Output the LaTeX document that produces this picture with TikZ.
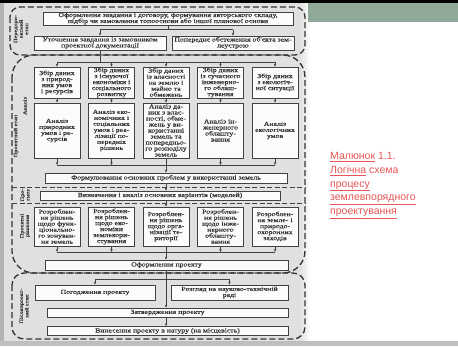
\documentclass[tikz,border=0pt]{standalone}
\usepackage{fontspec}
\setmainfont{Liberation Serif}
\newfontfamily\scanfont[FakeStretch=1.25,FakeBold=0.8]{Liberation Serif}
\newfontfamily\capfont{Liberation Sans}
\usetikzlibrary{arrows.meta}
\definecolor{scanbg}{RGB}{224,224,222}
\definecolor{ramka}{RGB}{65,65,65}
\definecolor{shryft}{RGB}{50,50,50}
\definecolor{zelena}{RGB}{143,168,152}
\definecolor{pidpys}{RGB}{230,86,86}
\tikzset{
  >={Stealth[length=3pt,width=2.4pt]},
  blok/.style={draw=ramka, line width=0.7pt, fill=white!88!scanbg, align=center,
    inner sep=0pt, text=shryft, font=\scanfont\fontsize{6.2}{6}\selectfont},
  etap/.style={draw=black!80, line width=1.3pt, dash pattern=on 6pt off 3pt},
  rozdil/.style={draw=black!75, line width=0.9pt, dash pattern=on 5pt off 2.5pt},
  mitka/.style={rotate=90, align=center, text=shryft,
    font=\scanfont\fontsize{5}{5.5}\selectfont},
  zv/.style={draw=ramka, line width=0.7pt}
}
\begin{document}
\begin{tikzpicture}[x=1pt,y=-1pt]
    \useasboundingbox (0,0) rectangle (458,346);
    % 
    \fill[white] (0,0) rectangle (458,346);
    \fill[scanbg] (4,3) rectangle (308,341);
    \shade[left color=scanbg, right color=white] (300,3) rectangle (310,341);
    \fill[gray!60] (0,3) rectangle (4,346);
    \fill[gray!50] (0,341) rectangle (458,346);
    \fill[zelena] (308,3) rectangle (458,22);
    \fill[black] (0,0) rectangle (458,2.5);
    %%%%%%%%%%%%%%%%%%%%%% 
    \draw[etap, rounded corners=10pt] (10,7) rectangle (305,55);
    \draw[etap, rounded corners=22pt] (12,55) rectangle (305,273);
    \draw[etap, rounded corners=12pt] (12,273) rectangle (305,339);
    % 
    \draw[rozdil] (12,187) -- (305,187);
    \draw[rozdil] (12,203) -- (305,203);
    % 
    \node[mitka] (m1) at (21,29) {Передпро-\\ектний\\етап};
    \node[mitka] (m2) at (25,106) {Аналіз};
    \node[mitka] (m3) at (16,136) {Проектний етап};
    \node[mitka] (m4) at (25,195) {Про-\\гноз};
    \node[mitka] (m5) at (25,226) {Проектні\\рішення};
    \node[mitka] (m6) at (24,306) {Післяпроект-\\ний етап};
    %%%%%%%%%%%%%%%%%%%%%% 
    \node[blok, minimum width=250pt, minimum height=13pt] (zavd) at (168,18.5)
      {Оформлення завдання і договору, формування авторського складу,\\
       підбір чи замовлення топооснови або іншої планової основи};
    \node[blok, minimum width=132pt, minimum height=14pt] (utoch) at (100,43)
      {Уточнення завдання із замовником\\проектної документації};
    \node[blok, minimum width=122pt, minimum height=14pt] (obst) at (233,43)
      {Попереднє обстеження об'єкта зем-\\леустрою};
    % 
    \coordinate (j1) at (0,29.5);
    \draw[zv] (zavd.south) -- (zavd.south |- j1);
    \draw[zv] (utoch.north |- j1) -- (obst.north |- j1);
    \draw[zv,->] (utoch.north |- j1) -- (utoch.north);
    \draw[zv,->] (obst.north |- j1) -- (obst.north);
    %%%%%%%%%%%%%%%%%%%%%% 
    \node[blok, minimum width=46pt, minimum height=31pt] (zb1) at (57,82.5)
      {Збір даних\\з природ-\\них умов\\і ресурсів};
    \node[blok, minimum width=46pt, minimum height=31pt] (zb2) at (111.5,82.5)
      {Збір даних\\з існуючої\\економіки і\\соціального\\розвитку};
    \node[blok, minimum width=46pt, minimum height=31pt] (zb3) at (166,82.5)
      {Збір даних\\із власності\\на землю і\\майно та\\обмежень};
    \node[blok, minimum width=46pt, minimum height=31pt] (zb4) at (220.5,82.5)
      {Збір даних\\із сучасного\\інженерно-\\го облаш-\\тування};
    \node[blok, minimum width=46pt, minimum height=31pt] (zb5) at (275,82.5)
      {Збір даних\\з екологіч-\\ної ситуації};
    % 
    \coordinate (j2) at (0,62);
    \draw[zv] (utoch.south) -- (utoch.south |- j2);
    \draw[zv] (zb1.north |- j2) -- (zb5.north |- j2);
    \draw[zv,->] (zb1.north |- j2) -- (zb1.north);
    \draw[zv,->] (zb2.north |- j2) -- (zb2.north);
    \draw[zv,->] (zb3.north |- j2) -- (zb3.north);
    \draw[zv,->] (zb4.north |- j2) -- (zb4.north);
    \draw[zv,->] (zb5.north |- j2) -- (zb5.north);
    %%%%%%%%%%%%%%%%%%%%%% 
    \node[blok, minimum width=46pt, minimum height=55pt] (an1) at (57,130.5)
      {Аналіз\\природних\\умов і ре-\\сурсів};
    \node[blok, minimum width=46pt, minimum height=55pt] (an2) at (111.5,130.5)
      {Аналіз еко-\\номічних і\\соціальних\\умов і реа-\\лізації по-\\передніх\\рішень};
    \node[blok, minimum width=46pt, minimum height=55pt] (an3) at (166,130.5)
      {Аналіз да-\\них з влас-\\ності, обме-\\жень у ви-\\користанні\\земель та\\попередньо-\\го розподілу\\земель};
    \node[blok, minimum width=46pt, minimum height=55pt] (an4) at (220.5,130.5)
      {Аналіз ін-\\женерного\\облашту-\\вання};
    \node[blok, minimum width=46pt, minimum height=55pt] (an5) at (275,130.5)
      {Аналіз\\екологічних\\умов};
    % 
    \draw[zv,->] (zb1.south) -- (an1.north);
    \draw[zv,->] (zb2.south) -- (an2.north);
    \draw[zv,->] (zb3.south) -- (an3.north);
    \draw[zv,->] (zb4.south) -- (an4.north);
    \draw[zv,->] (zb5.south) -- (an5.north);
    %%%%%%%%%%%%%%%%%%%%%% 
    \node[blok, minimum width=242pt, minimum height=10pt] (form) at (166,178)
      {Формулювання основних проблем у використанні земель};
    \coordinate (j3) at (0,165);
    \draw[zv] (an1.south |- j3) -- (an5.south |- j3);
    \draw[zv,->] (an1.south) -- (an1.south |- j3);
    \draw[zv,->] (an2.south) -- (an2.south |- j3);
    \draw[zv] (an3.south) -- (an3.south |- j3);
    \draw[zv,->] (an4.south) -- (an4.south |- j3);
    \draw[zv,->] (an5.south) -- (an5.south |- j3);
    \draw[zv,->] (an3.south |- j3) -- (form.north);
    % 
    \node[blok, minimum width=240pt, minimum height=9pt] (vyzn) at (160,195.5)
      {Визначення і аналіз основних варіантів (моделей)};
    \draw[zv,->] (form.south -| an3.south) -- (vyzn.north -| an3.south);
    %%%%%%%%%%%%%%%%%%%%%% 
    \node[blok, minimum width=46pt, minimum height=39pt] (rz1) at (57,226.5)
      {Розроблен-\\ня рішень\\щодо функ-\\ціонально-\\го зонуван-\\ня земель};
    \node[blok, minimum width=46pt, minimum height=39pt] (rz2) at (111.5,226.5)
      {Розроблен-\\ня рішень\\щодо еко-\\номіки\\землекори-\\стування};
    \node[blok, minimum width=46pt, minimum height=39pt] (rz3) at (166,226.5)
      {Розроблен-\\ня рішень\\щодо орга-\\нізації те-\\риторії};
    \node[blok, minimum width=46pt, minimum height=39pt] (rz4) at (220.5,226.5)
      {Розроблен-\\ня рішень\\щодо інже-\\нерного\\облашту-\\вання};
    \node[blok, minimum width=46pt, minimum height=39pt] (rz5) at (275,226.5)
      {Розроблен-\\ня земле- і\\природо-\\охоронних\\заходів};
    % 
    \draw[zv,->] (vyzn.south -| rz3.north) -- (rz3.north);
    %%%%%%%%%%%%%%%%%%%%%% 
    \node[blok, minimum width=243pt, minimum height=10pt] (oform) at (166.5,265)
      {Оформлення проекту};
    \coordinate (j4) at (0,252);
    \draw[zv] (rz1.south |- j4) -- (rz5.south |- j4);
    \draw[zv,->] (rz1.south) -- (rz1.south |- j4);
    \draw[zv,->] (rz2.south) -- (rz2.south |- j4);
    \draw[zv] (rz3.south) -- (rz3.south |- j4);
    \draw[zv,->] (rz4.south) -- (rz4.south |- j4);
    \draw[zv,->] (rz5.south) -- (rz5.south |- j4);
    \draw[zv,->] (rz3.south |- j4) -- (oform.north -| rz3.south);
    %%%%%%%%%%%%%%%%%%%%%% 
    \node[blok, minimum width=120pt, minimum height=15pt] (pogod) at (95,292.5)
      {Погодження проекту};
    \node[blok, minimum width=117pt, minimum height=15pt] (rozgl) at (229.5,292.5)
      {Розгляд на науково-технічній\\раді};
    \node[blok, minimum width=241pt, minimum height=9pt] (zatv) at (167.5,312.5)
      {Затвердження проекту};
    \node[blok, minimum width=241pt, minimum height=9pt] (vyn) at (167.5,331)
      {Винесення проекту в натуру (на місцевість)};
    % 
    \coordinate (j5) at (0,279);
    \draw[zv,->] (oform.south -| rz3.south) -- (zatv.north -| rz3.south);
    \draw[zv] (pogod.north |- j5) -- (rozgl.north |- j5);
    \draw[zv,->] (pogod.north |- j5) -- (pogod.north);
    \draw[zv,->] (rozgl.north |- j5) -- (rozgl.north);
    \draw[zv,->] (zatv.south -| rz3.south) -- (vyn.north -| rz3.south);
    %%%%%%%%%%%%%%%%%%%%%% 
    \node[anchor=north west, align=left, text=pidpys, inner sep=0pt,
      font=\capfont\fontsize{10.5}{13.8}\selectfont] (pidpys) at (330,152)
      {\underline{Малюнок} 1.1.\\\underline{Логічна} схема\\\underline{процесу}\\
       \underline{землевпорядного}\\\underline{проектування}};
  \end{tikzpicture}
\end{document}
